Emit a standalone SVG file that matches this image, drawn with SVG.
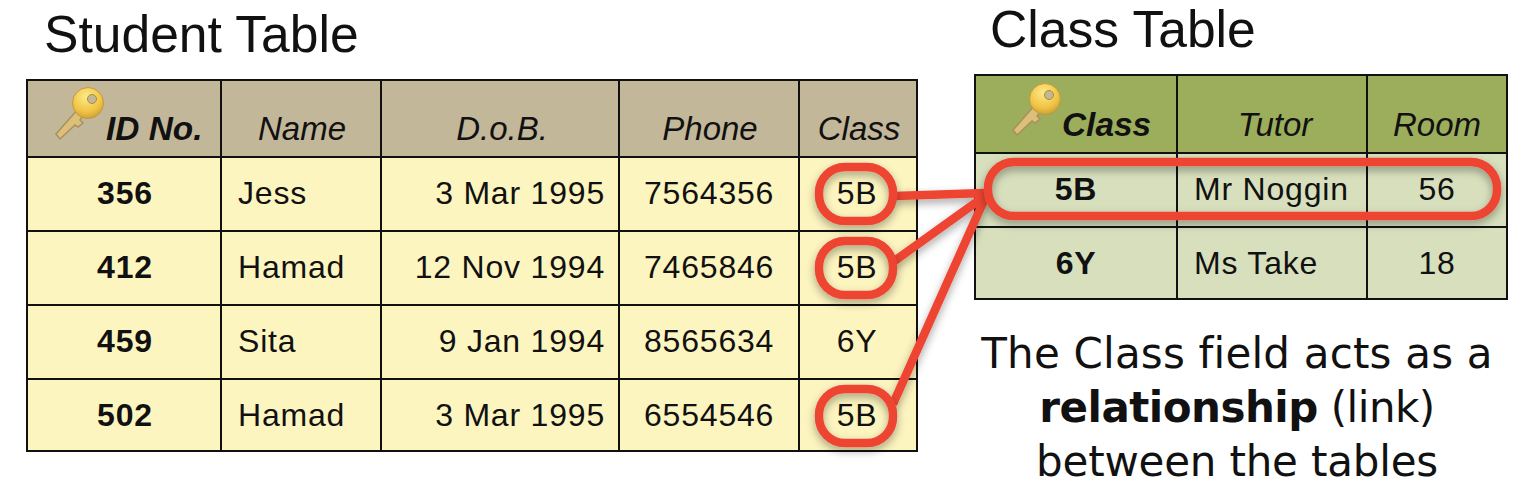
<svg xmlns="http://www.w3.org/2000/svg" width="1530" height="488" viewBox="0 0 1530 488">
<style>
text{font-family:"Liberation Sans",Arial,sans-serif;fill:#111}
.title{font-size:51.6px}
.h{font-size:33px;font-style:italic;text-anchor:middle}
.hb{font-size:33.4px;font-style:italic;font-weight:bold}
.c{font-size:32px;letter-spacing:.8px}
.m{text-anchor:middle}
.e{text-anchor:end}
.b{font-weight:bold}
.grid{fill:none;stroke:#111;stroke-width:2}
.red{fill:none;stroke:#ee4433;stroke-width:8.5;filter:url(#sh)}
.p{font-family:"DejaVu Sans",sans-serif;font-size:42px;text-anchor:middle}
</style>
<defs>
<filter id="sh" x="-20%" y="-20%" width="140%" height="150%"><feDropShadow dx="0" dy="4" stdDeviation="4" flood-color="#000" flood-opacity=".35"/></filter>
<radialGradient id="kg" cx=".45" cy=".3" r=".8"><stop offset="0" stop-color="#fdeb8a"/><stop offset=".6" stop-color="#f0c444"/><stop offset="1" stop-color="#c0922f"/></radialGradient>
<g id="key">
<path d="M0 45 L22 20 L28 26 L24 31 L27 34 L22 38 L19 36 L4 50 Z" fill="#dcbf78" stroke="#a8905f" stroke-width="1.5"/>
<circle cx="32" cy="14" r="15.5" fill="url(#kg)" stroke="#c2983f"/>
<circle cx="36" cy="10" r="4.5" fill="#c3b79a" stroke="#b08a30"/>
</g>
</defs>
<text class="title" x="44" y="52">Student Table</text>
<text class="title" x="990" y="47">Class Table</text>
<g id="student-table">
<rect x="27" y="80" width="890" height="77" fill="#c3b79a"/>
<rect x="27" y="157" width="890" height="294" fill="#fdf5bf"/>
<path class="grid" d="M27 80H917V451H27ZM27 157H917M27 231H917M27 305H917M27 379H917M221 80V451M381 80V451M619 80V451M799 80V451"/>
<use href="#key" x="56" y="89"/>
<text class="hb" x="106" y="140">ID No.</text>
<text class="h" x="302" y="140">Name</text>
<text class="h" x="502" y="140">D.o.B.</text>
<text class="h" x="710" y="140">Phone</text>
<text class="h" x="859" y="140">Class</text>
<g class="c">
<text class="m b" x="125" y="204">356</text><text x="238" y="204">Jess</text><text class="e" x="605" y="204">3 Mar 1995</text><text x="644" y="204">7564356</text><text class="m" x="857" y="204">5B</text>
<text class="m b" x="125" y="278">412</text><text x="238" y="278">Hamad</text><text class="e" x="605" y="278">12 Nov 1994</text><text x="644" y="278">7465846</text><text class="m" x="857" y="278">5B</text>
<text class="m b" x="125" y="352">459</text><text x="238" y="352">Sita</text><text class="e" x="605" y="352">9 Jan 1994</text><text x="644" y="352">8565634</text><text class="m" x="857" y="352">6Y</text>
<text class="m b" x="125" y="426">502</text><text x="238" y="426">Hamad</text><text class="e" x="605" y="426">3 Mar 1995</text><text x="644" y="426">6554546</text><text class="m" x="857" y="426">5B</text>
</g>
</g>
<g id="class-table">
<rect x="975" y="75" width="532" height="78" fill="#9cae5c"/>
<rect x="975" y="153" width="532" height="146" fill="#d7dfbd"/>
<path class="grid" d="M975 75H1507V299H975ZM975 153H1507M975 227H1507M1177 75V299M1367 75V299"/>
<use href="#key" x="1013" y="85"/>
<text class="hb" x="1062" y="136">Class</text>
<text class="h" x="1275" y="136">Tutor</text>
<text class="h" x="1437" y="136">Room</text>
<g class="c">
<text class="m b" x="1076" y="200">5B</text><text x="1194" y="200">Mr Noggin</text><text class="m" x="1437" y="200">56</text>
<text class="m b" x="1076" y="274">6Y</text><text x="1194" y="274">Ms Take</text><text class="m" x="1437" y="274">18</text>
</g>
</g>
<g id="connectors">
<path class="red" d="M895 196L985 193M893 262L985 196M893 404L985 198"/>
</g>
<g id="highlights">
<rect class="red" x="819" y="167" width="74" height="54" rx="26"/>
<rect class="red" x="819" y="241" width="74" height="54" rx="26"/>
<rect class="red" x="819" y="389" width="74" height="54" rx="26"/>
<rect class="red" x="988" y="162" width="509" height="54" rx="26"/>
</g>
<g id="caption">
<text class="p" x="1237" y="368" style="letter-spacing:.2px">The Class field acts as a</text>
<text class="p" x="1237" y="422" style="letter-spacing:-.5px"><tspan font-weight="bold">relationship</tspan> (link)</text>
<text class="p" x="1237" y="476" style="letter-spacing:-.2px">between the tables</text>
</g>
</svg>
